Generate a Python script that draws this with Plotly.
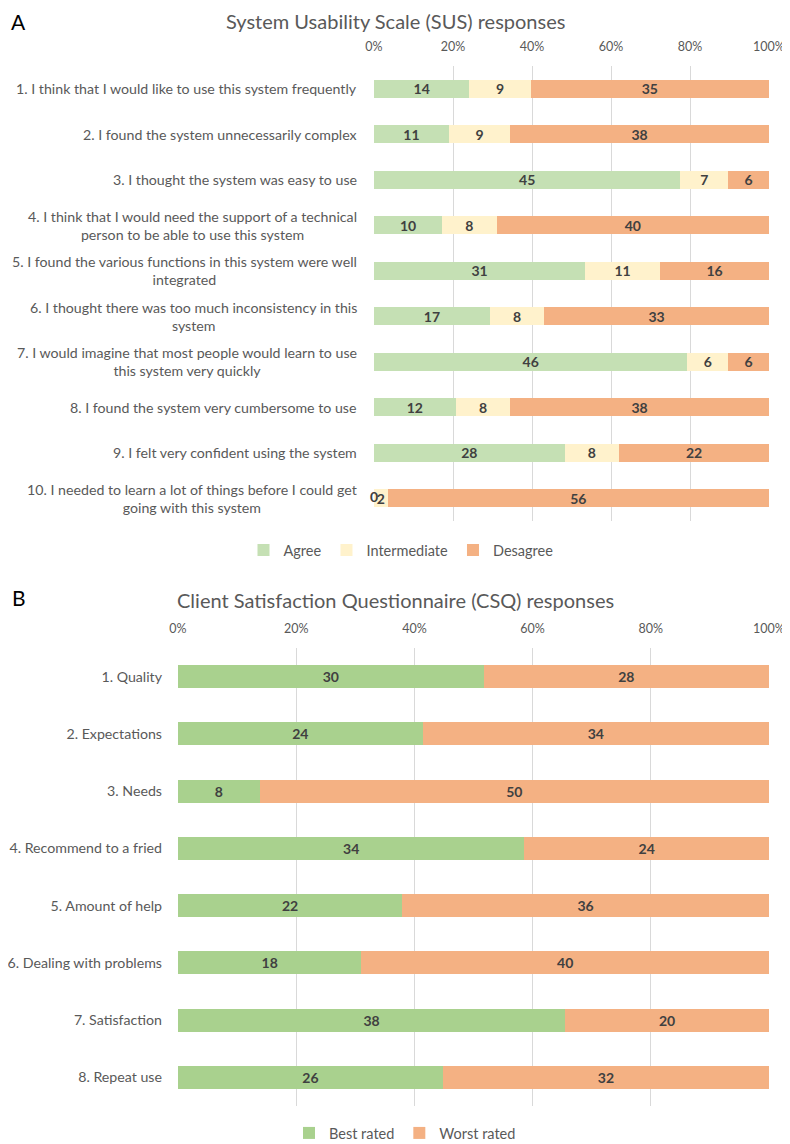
import plotly.graph_objects as go

# ---------------- data ----------------
sus_items = [
    "1. I think that I would like to use this system frequently",
    "2. I found the system unnecessarily complex",
    "3. I thought the system was easy to use",
    "4. I think that I would need the support of a technical<br>person to be able to use this system",
    "5. I found the various functions in this system were well<br>integrated",
    "6. I thought there was too much inconsistency in this<br>system",
    "7. I would imagine that most people would learn to use<br>this system very quickly",
    "8. I found the system very cumbersome to use",
    "9. I felt very confident using the system",
    "10. I needed to learn a lot of things before I could get<br>going with this system",
]
sus_agree = [14, 11, 45, 10, 31, 17, 46, 12, 28, 0]
sus_intermediate = [9, 9, 7, 8, 11, 8, 6, 8, 8, 2]
sus_disagree = [35, 38, 6, 40, 16, 33, 6, 38, 22, 56]

csq_items = [
    "1. Quality",
    "2. Expectations",
    "3. Needs",
    "4. Recommend to a fried",
    "5. Amount of help",
    "6. Dealing with problems",
    "7. Satisfaction",
    "8. Repeat use",
]
csq_best = [30, 24, 8, 34, 22, 18, 38, 26]
csq_worst = [28, 34, 50, 24, 36, 40, 20, 32]

tick_vals = [0, 20, 40, 60, 80, 100]
tick_text = ["0%", "20%", "40%", "60%", "80%", "100%"]

# ---------------- style ----------------
FONT = "Lato"
GRAY = "#595959"
LBL = "#404040"
OFF = 8                      # page body margin
W, H = 790 - OFF, 1144 - OFF

def py(pix):
    return 1 - (pix - OFF) / H

def px(pix):
    return (pix - OFF) / W

sus_keys = [str(i) for i in range(len(sus_items))]
csq_keys = [str(i) for i in range(len(csq_items))]

fig = go.Figure()
BAR_FONT = dict(family=FONT, size=14, color=LBL, weight="bold")

def add_bar(keys, vals, name, color, xa, ya, legend):
    fig.add_trace(go.Bar(
        y=keys, x=vals, name=name, orientation="h",
        marker=dict(color=color, line=dict(width=0)),
        text=[str(v) for v in vals], textposition="inside", textangle=0,
        insidetextanchor="middle", constraintext="none",
        textfont=BAR_FONT,
        xaxis=xa, yaxis=ya, legend=legend, cliponaxis=False,
    ))

add_bar(sus_keys, sus_agree, "Agree", "#C5E0B4", "x", "y", "legend")
add_bar(sus_keys, sus_intermediate, "Intermediate", "#FFF2CC", "x", "y", "legend")
add_bar(sus_keys, sus_disagree, "Desagree", "#F4B183", "x", "y", "legend")
add_bar(csq_keys, csq_best, "Best rated", "#A9D18E", "x2", "y2", "legend2")
add_bar(csq_keys, csq_worst, "Worst rated", "#F4B183", "x2", "y2", "legend2")

# zero-valued segments get their label at the start of the bar (as in the original)
zero_keys = [k for k, v in zip(sus_keys, sus_agree) if v == 0]
zero_text = [str(v) for v in sus_agree if v == 0]
fig.add_trace(go.Scatter(
    y=zero_keys, x=[0] * len(zero_keys), text=zero_text, mode="text",
    textposition="middle center", textfont=BAR_FONT, showlegend=False,
    xaxis="x", yaxis="y", cliponaxis=False, hoverinfo="skip",
))

xcommon = dict(
    range=[0, 100], tickvals=tick_vals, ticktext=tick_text, side="top",
    showgrid=True, gridcolor="#D9D9D9", gridwidth=1, zeroline=False,
    showline=False, ticks="", tickfont=dict(family=FONT, size=12.5, color=GRAY),
    fixedrange=True, automargin=False, ticklabelstandoff=12,
)

annotations = []
for k, lab in zip(sus_keys, sus_items):
    annotations.append(dict(
        x=px(359), xref="paper", y=k, yref="y", text=lab, showarrow=False,
        xanchor="right", yanchor="middle", align="center",
        font=dict(family=FONT, size=14.2, color=GRAY),
    ))
annotations += [
    dict(x=px(10), y=1, xref="paper", yref="paper", text="A", showarrow=False,
         xanchor="left", yanchor="top", borderpad=0,
         font=dict(family=FONT, size=21, color="#000000")),
    dict(x=px(10), y=py(597), xref="paper", yref="paper", text="B", showarrow=False,
         xanchor="left", yanchor="middle", font=dict(family=FONT, size=21, color="#000000")),
    dict(x=px(395), y=1, xref="paper", yref="paper", text="System Usability Scale (SUS) responses",
         showarrow=False, xanchor="center", yanchor="top", borderpad=0,
         font=dict(family=FONT, size=20, color=GRAY)),
    dict(x=px(395), y=py(600), xref="paper", yref="paper", text="Client Satisfaction Questionnaire (CSQ) responses",
         showarrow=False, xanchor="center", yanchor="middle", font=dict(family=FONT, size=20, color=GRAY)),
]

fig.update_layout(
    width=W, height=H, margin=dict(l=0, r=0, t=0, b=0, autoexpand=False),
    paper_bgcolor="white", plot_bgcolor="white",
    barmode="stack", barnorm="percent", bargap=0.6,
    font=dict(family=FONT, color=GRAY),
    showlegend=True,
    xaxis=dict(domain=[px(374), px(769)], anchor="y", **xcommon),
    yaxis=dict(domain=[py(521), py(66)], anchor="x", autorange="reversed",
               showticklabels=False, showgrid=False, zeroline=False, fixedrange=True,
               automargin=False),
    xaxis2=dict(domain=[px(178), px(769)], anchor="y2", **xcommon),
    yaxis2=dict(domain=[py(1106), py(648)], anchor="x2", autorange="reversed",
                tickvals=csq_keys, ticktext=csq_items, ticks="", ticklabelstandoff=15,
                tickfont=dict(family=FONT, size=14.2, color=GRAY),
                showgrid=False, zeroline=False, fixedrange=True, automargin=False),
    legend=dict(orientation="h", x=px(401), y=py(550), xanchor="center", yanchor="middle",
                font=dict(family=FONT, size=14.5, color=GRAY), traceorder="normal",
                itemwidth=30, bgcolor="rgba(0,0,0,0)"),
    legend2=dict(orientation="h", x=px(405), y=py(1133), xanchor="center", yanchor="middle",
                 font=dict(family=FONT, size=14.5, color=GRAY), traceorder="normal",
                 itemwidth=30, bgcolor="rgba(0,0,0,0)"),
    annotations=annotations,
)

fig.write_html("out.html")
